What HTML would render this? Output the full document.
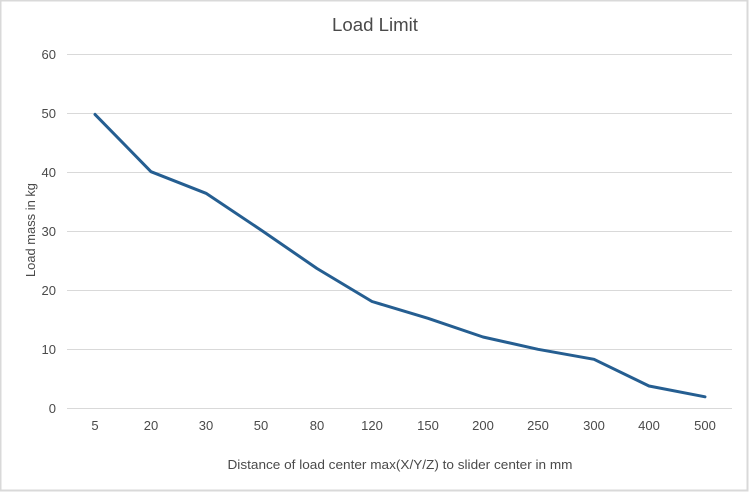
<!DOCTYPE html>
<html><head><meta charset="utf-8"><style>
html,body{margin:0;padding:0;background:#fff;}
svg{display:block;}
text{font-family:"Liberation Sans","DejaVu Sans",sans-serif;fill:#4a4a4a;}
</style></head><body>
<svg width="750" height="494" viewBox="0 0 750 494" xmlns="http://www.w3.org/2000/svg">
<rect x="0.5" y="0.5" width="747" height="490" fill="#fff" stroke="#d9d9d9" stroke-width="2"/>
<g stroke="#d9d9d9" stroke-width="1">
<line x1="67" y1="54.5" x2="732" y2="54.5"/>
<line x1="67" y1="113.5" x2="732" y2="113.5"/>
<line x1="67" y1="172.5" x2="732" y2="172.5"/>
<line x1="67" y1="231.5" x2="732" y2="231.5"/>
<line x1="67" y1="290.5" x2="732" y2="290.5"/>
<line x1="67" y1="349.5" x2="732" y2="349.5"/>
<line x1="67" y1="408.5" x2="732" y2="408.5"/>
</g>
<text x="375" y="31" font-size="18" text-anchor="middle" fill="#404040" textLength="86" lengthAdjust="spacingAndGlyphs">Load Limit</text>
<g font-size="13" text-anchor="end">
<text x="56" y="59">60</text>
<text x="56" y="118">50</text>
<text x="56" y="177">40</text>
<text x="56" y="236">30</text>
<text x="56" y="295">20</text>
<text x="56" y="354">10</text>
<text x="56" y="413">0</text>
</g>
<g font-size="13" text-anchor="middle">
<text x="95" y="430">5</text>
<text x="151" y="430">20</text>
<text x="206" y="430">30</text>
<text x="261" y="430">50</text>
<text x="317" y="430">80</text>
<text x="372" y="430">120</text>
<text x="428" y="430">150</text>
<text x="483" y="430">200</text>
<text x="538" y="430">250</text>
<text x="594" y="430">300</text>
<text x="649" y="430">400</text>
<text x="705" y="430">500</text>
</g>
<text x="400" y="469" font-size="13" text-anchor="middle" textLength="345" lengthAdjust="spacingAndGlyphs">Distance of load center max(X/Y/Z) to slider center in mm</text>
<text transform="translate(35,230) rotate(-90)" font-size="13" text-anchor="middle" textLength="94" lengthAdjust="spacingAndGlyphs">Load mass in kg</text>
<polyline fill="none" stroke="#255e91" stroke-width="3" stroke-linejoin="round" stroke-linecap="round"
points="95,114.4 151,171.7 206,193.3 261,230 317,268.5 372,301.5 428,318.3 483,337 538,349.3 594,359.3 649,386 705,396.8"/>
</svg>
</body></html>
